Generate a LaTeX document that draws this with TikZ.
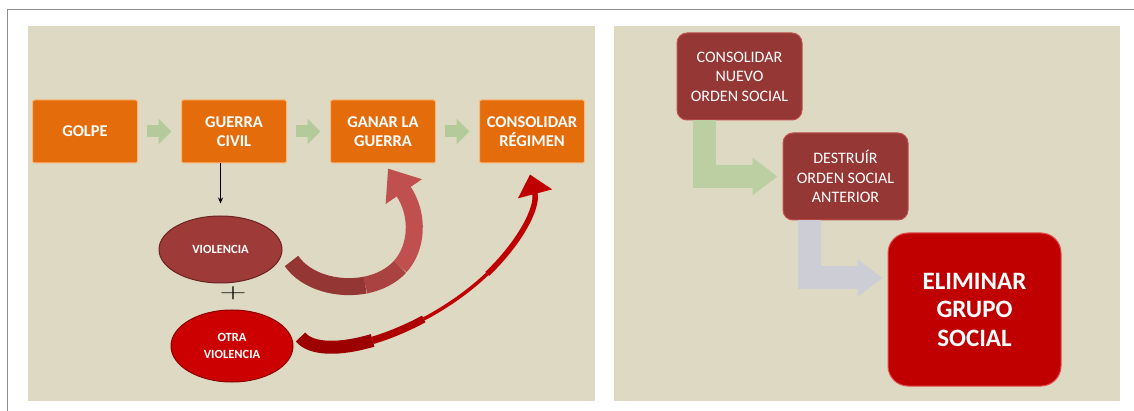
\documentclass[tikz,border=0pt]{standalone}
\usepackage{fontspec}
\setmainfont{Carlito}
\newfontfamily\signo{Latin Modern Roman}
\usetikzlibrary{positioning,shapes.geometric,arrows.meta}

\definecolor{fondo}{HTML}{DDD9C3}
\definecolor{marco}{HTML}{8C8C8C}
\definecolor{naranja}{HTML}{E46C0A}
\definecolor{naranjaborde}{HTML}{F9B77A}
\definecolor{granate}{HTML}{953735}
\definecolor{granateborde}{HTML}{C0504D}
\definecolor{rojo}{HTML}{C00000}
\definecolor{rojoborde}{HTML}{E05050}
\definecolor{rojooscuro}{HTML}{9C0000}
\definecolor{rojomedio}{HTML}{AE0000}
\definecolor{violfondo}{HTML}{9E3A38}
\definecolor{violborde}{HTML}{6B2422}
\definecolor{otrafondo}{HTML}{CC0000}
\definecolor{otraborde}{HTML}{8E0000}
\definecolor{verde}{HTML}{BCCFA3}
\definecolor{verdeflecha}{HTML}{B5CA9B}
\definecolor{gris}{HTML}{CDCDD5}
\definecolor{cintaosc}{HTML}{943634}
\definecolor{cintamedia}{HTML}{A94240}
\definecolor{cintaclara}{HTML}{C0504D}

\begin{document}
\begin{tikzpicture}[x=1pt, y=-1pt, node distance=43pt,
    orangebox/.style={rectangle, draw=naranjaborde, fill=naranja, line width=1pt, rounded corners=2pt,
        minimum width=105pt, minimum height=63pt, inner sep=1pt, align=center, text=white,
        font=\bfseries\fontsize{16.5}{18.5}\selectfont},
    darkbox/.style={rectangle, draw=granateborde, fill=granate, line width=1pt, rounded corners=10pt,
        minimum width=125pt, minimum height=87pt, inner sep=1pt, align=center, text=white,
        font=\fontsize{16}{19.5}\selectfont},
    bigbox/.style={darkbox, draw=rojoborde, fill=rojo, rounded corners=20pt,
        minimum width=173pt, minimum height=153pt, font=\bfseries\fontsize{25}{28.5}\selectfont},
    oval/.style={ellipse, line width=1pt, inner sep=0pt, align=center, text=white,
        font=\bfseries\fontsize{12.5}{17}\selectfont},
    flow/.style={draw=verdeflecha, line width=12pt, shorten <=8.5pt, shorten >=9.5pt,
        -{Triangle[length=13pt,width=25pt]}},
    bent/.style={line width=23pt, shorten >=5pt, -{Triangle[length=25pt,width=36pt]}},
    ]
    \useasboundingbox (0,0) rectangle (1134,411);

    % fondo de las dos diapositivas
    \fill[fondo] (28,26) rectangle (595,401);
    \fill[fondo] (614,26) rectangle (1120,401);
    \draw[marco, line width=1.5pt] (7.5,411) -- (7.5,9.5) -- (1134,9.5);

    % izquierda
    \node [orangebox](11) at (85,131.5) {GOLPE};
    \node [orangebox](12) [right = of 11]{GUERRA\\CIVIL};
    \node [orangebox](13) [right = of 12]{GANAR LA\\GUERRA};
    \node [orangebox](14) [right = of 13]{CONSOLIDAR\\RÉGIMEN};

    \node [oval, fill=violfondo, draw=violborde, minimum width=123pt, minimum height=67pt](15)
        [below = 52pt of 12, xshift = -13.5pt]{VIOLENCIA};
    \node [oval, fill=otrafondo, draw=otraborde, minimum width=122pt, minimum height=72pt](16)
        [below = 26pt of 15, xshift = 11.5pt]{OTRA\\VIOLENCIA};
    \node (plus) at (233,293) {\scalebox{1.25}[0.7]{\signo\fontsize{30}{30}\selectfont +}};

    \coordinate (a1) at (365.3,285.1);
    \coordinate (a2) at (400,266.8);
    \coordinate (b1) at (372.6,340.4);
    \coordinate (b2) at (423.7,319);
    \coordinate (b3) at (487.2,273.9);

    \path (11) edge[flow] (12)
          (12) edge[flow] (13)
          (13) edge[flow] (14);

    \draw[-{Stealth[length=6pt,width=5pt]}, line width=1.3pt, shorten >=12pt] (12.south -| 15.north) -- (15.north);

    % violencia -> ganar la guerra
    \draw[cintaosc, line width=17pt] ([xshift=9pt,yshift=-11.5pt]15.east)
        .. controls (306,282) and (338,290.4) .. (a1);
    \draw[cintamedia, line width=17pt] (a1) .. controls (378.9,282.4) and (391.4,276.3) .. (a2);
    \draw[cintaclara, line width=17pt, -{Triangle[length=28pt,width=42pt]}] (a2)
        .. controls (417.4,247.7) and (419.6,214.8) .. ([xshift=5pt,yshift=-5pt]13.south);

    % otra violencia -> consolidar regimen
    \draw[rojooscuro, line width=13pt] ([xshift=7pt,yshift=9pt]16.east)
        .. controls (311.3,350) and (339.7,350.1) .. (b1);
    \draw[rojomedio, line width=7.5pt] (b1) .. controls (389,335.5) and (406.5,328.2) .. (b2);
    \draw[rojo, line width=3.5pt] (b2) .. controls (446.7,306.8) and (469,291.2) .. (b3);
    \draw[rojo, line width=5.5pt, -{Triangle[length=20pt,width=34pt]}] (b3)
        .. controls (519.1,243.5) and (538.6,207.6) .. ([xshift=-2pt,yshift=-11pt]14.south);

    % derecha
    \node [darkbox](21) at (739.5,76.5) {CONSOLIDAR\\NUEVO\\ORDEN SOCIAL};
    \node [darkbox](22) [below right = 12pt and -20pt of 21]{DESTRUÍR\\ORDEN SOCIAL\\ANTERIOR};
    \node [bigbox](23) [below right = 12pt and -21pt of 22]{ELIMINAR\\GRUPO\\SOCIAL};

    \draw[bent, draw=verde] ([xshift=-35.5pt]21.south) |- (22.west);
    \draw[bent, draw=gris] ([xshift=-36pt]22.south) |- ([yshift=31.5pt]23.west);
\end{tikzpicture}
\end{document}
